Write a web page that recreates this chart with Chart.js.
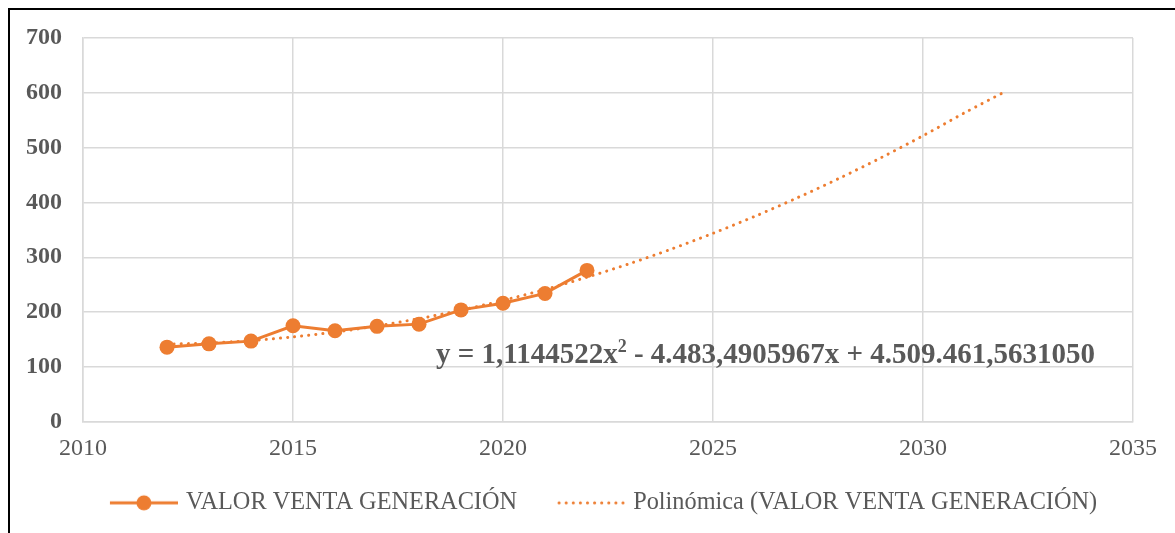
<!DOCTYPE html>
<html>
<head>
<meta charset="utf-8">
<script src="https://cdn.jsdelivr.net/npm/chart.js@4.4.1/dist/chart.umd.min.js"></script>
<style>
  html, body { margin: 0; padding: 0; background: #fff; overflow: hidden; }
  #frame { position: absolute; left: 8px; top: 8px; width: 1300px; height: 600px;
           border-left: 2px solid #000; border-top: 2px solid #000; }
  #wrap { position: absolute; left: 10px; top: 10px; width: 1187px; height: 523px; }
</style>
</head>
<body>
<div id="frame"></div>
<div id="wrap"><canvas id="myChart"></canvas></div>
<script>
const years = [2012, 2013, 2014, 2015, 2016, 2017, 2018, 2019, 2020, 2021, 2022];
const valorVenta = [136, 142, 147, 175, 166, 174, 178, 204, 216, 234, 276];

const trendYears = [2012, 2013, 2014, 2015, 2016, 2017, 2018, 2019, 2020, 2021, 2022,
  2023, 2024, 2025, 2026, 2027, 2028, 2029, 2030, 2031, 2032];
const trendValues = [141.5, 143.6, 148.0, 154.7, 163.5, 174.6, 188.0, 203.5, 221.3, 241.3, 263.6,
  288.0, 314.7, 343.7, 374.8, 408.2, 443.8, 481.6, 521.7, 564.0, 604.0];

const xTicks = [2010, 2015, 2020, 2025, 2030, 2035];
const yTicks = [0, 100, 200, 300, 400, 500, 600, 700];

const seriesName = 'VALOR VENTA GENERACIÓN';
const trendName = 'Polinómica (VALOR VENTA GENERACIÓN)';
const equationParts = ['y = 1,1144522x', '2', ' - 4.483,4905967x + 4.509.461,5631050'];

const orange = '#ED7D31';
const textGrey = '#595959';
const gridGrey = '#d9d9d9';
const serif = "'Liberation Serif', 'Times New Roman', serif";

// legend markers: 72px image, the visible 68px sit on its right side
function makeMarker(dotted) {
  const c = document.createElement('canvas');
  c.width = 72;
  c.height = 18;
  const g = c.getContext('2d');
  g.strokeStyle = orange;
  g.fillStyle = orange;
  g.lineWidth = 3;
  if (dotted) {
    g.lineCap = 'round';
    g.setLineDash([0.1, 7]);
    g.beginPath();
    g.moveTo(6, 9);
    g.lineTo(72, 9);
    g.stroke();
  } else {
    g.beginPath();
    g.moveTo(4, 9);
    g.lineTo(72, 9);
    g.stroke();
    g.beginPath();
    g.arc(38, 9, 7.5, 0, Math.PI * 2);
    g.fill();
  }
  return c;
}
const markerSeries = makeMarker(false);
const markerTrend = makeMarker(true);

const equationPlugin = {
  id: 'equation',
  afterLayout(chart) {
    // the source chart is wider than the screenshot; centre the legend like it
    chart.legend.left += 32;
    chart.legend.right += 32;
    chart.legend.top -= 8;
    chart.legend.bottom -= 8;
  },
  afterDatasetsDraw(chart) {
    const { ctx, chartArea } = chart;
    const x0 = chartArea.left + 353;
    const y0 = chartArea.top + 325;
    ctx.save();
    ctx.fillStyle = textGrey;
    ctx.textBaseline = 'alphabetic';
    ctx.font = 'bold 29px ' + serif;
    let x = x0;
    ctx.fillText(equationParts[0], x, y0);
    x += ctx.measureText(equationParts[0]).width;
    ctx.font = 'bold 18px ' + serif;
    ctx.fillText(equationParts[1], x, y0 - 11);
    x += ctx.measureText(equationParts[1]).width;
    ctx.font = 'bold 29px ' + serif;
    ctx.fillText(equationParts[2], x, y0);
    ctx.restore();
  }
};

const ctx = document.getElementById('myChart');

new Chart(ctx, {
  type: 'scatter',
  data: {
    datasets: [
      {
        label: seriesName,
        data: years.map((yr, i) => ({ x: yr, y: valorVenta[i] })),
        showLine: true,
        borderColor: orange,
        backgroundColor: orange,
        borderWidth: 3,
        pointRadius: 7.5,
        pointHoverRadius: 7.5,
        pointBorderWidth: 0,
        order: 1,
      },
      {
        label: trendName,
        data: trendYears.map((yr, i) => ({ x: yr, y: trendValues[i] })),
        showLine: true,
        borderColor: orange,
        backgroundColor: orange,
        borderWidth: 3,
        borderDash: [0.1, 7],
        borderCapStyle: 'round',
        tension: 0.3,
        pointRadius: 0,
        order: 2,
      },
    ],
  },
  options: {
    responsive: true,
    maintainAspectRatio: false,
    animation: false,
    layout: { padding: { top: 28, right: 64, bottom: 0, left: 0 } },
    scales: {
      x: {
        type: 'linear',
        min: 2010,
        max: 2035,
        afterBuildTicks: (scale) => { scale.ticks = xTicks.map((v) => ({ value: v })); },
        ticks: {
          color: textGrey,
          font: { family: serif, size: 24 },
          padding: 13,
          callback: (v) => String(v),
        },
        grid: { color: gridGrey, lineWidth: 1.5, drawTicks: false },
        border: { color: gridGrey, width: 1.5 },
        afterFit: (scale) => { scale.height = 37; },
      },
      y: {
        min: 0,
        max: 700,
        afterBuildTicks: (scale) => { scale.ticks = yTicks.map((v) => ({ value: v })); },
        ticks: {
          color: textGrey,
          font: { family: serif, size: 24, weight: 'bold', lineHeight: 1 },
          padding: 21,
        },
        grid: { color: gridGrey, lineWidth: 1.5, drawTicks: false },
        border: { color: gridGrey, width: 1.5 },
        afterFit: (scale) => {
          scale.width = 73;
          scale.paddingTop = 0;
          scale.paddingBottom = 0;
        },
      },
    },
    plugins: {
      tooltip: { enabled: false },
      legend: {
        position: 'bottom',
        labels: {
          color: textGrey,
          font: { family: serif, size: 24.3 },
          usePointStyle: true,
          pointStyleWidth: 64,
          padding: 40,
          generateLabels: () => [
            { text: seriesName, pointStyle: markerSeries, fontColor: textGrey, lineWidth: 0, datasetIndex: 0 },
            { text: trendName, pointStyle: markerTrend, fontColor: textGrey, lineWidth: 0, datasetIndex: 1 },
          ],
        },
      },
    },
  },
  plugins: [equationPlugin],
});
</script>
</body>
</html>
